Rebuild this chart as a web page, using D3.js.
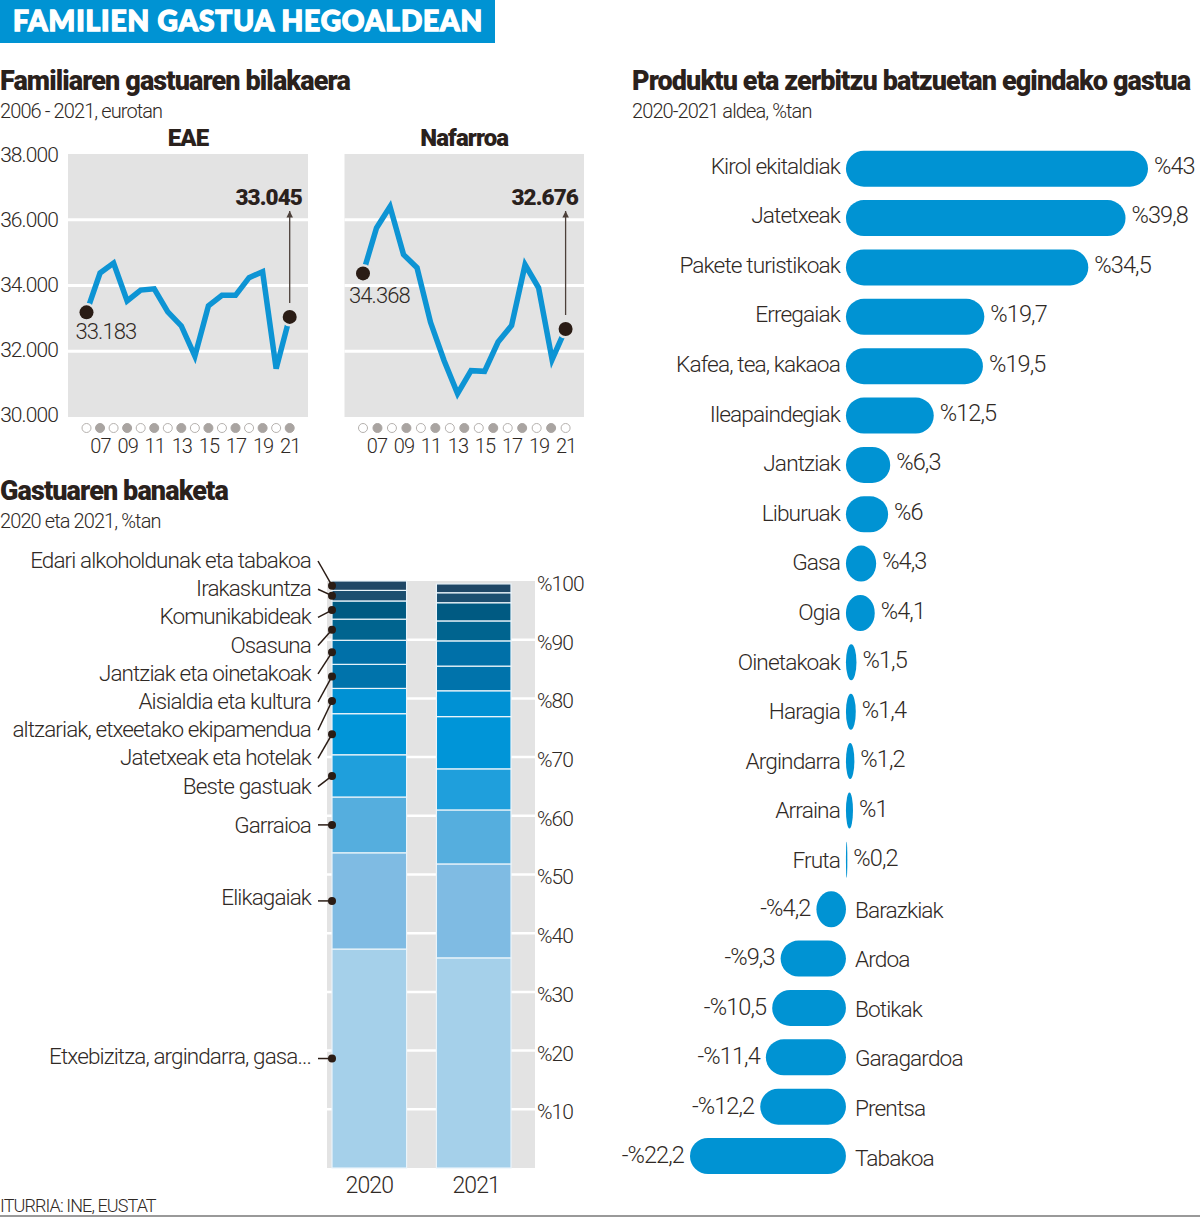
<!DOCTYPE html>
<html lang="en">
<head>
  <meta charset="UTF-8" />
  <title>Familien gastua hegoaldean</title>
  <script src="https://d3js.org/d3.v7.min.js"></script>
  <style>
    html, body { margin: 0; padding: 0; background: #fff; }
    svg { display: block; }
    text { font-family: Roboto, sans-serif; font-weight: 300; fill: #2f2925; letter-spacing: -0.9px; }
    .head { font-weight: 900; fill: #2a211c; letter-spacing: -0.9px; }
  </style>
</head>
<body>
<script>
  // line charts
  const years = d3.range(2006, 2022);
  const yearTicks = [2007, 2009, 2011, 2013, 2015, 2017, 2019, 2021];
  const euroTicks = [30000, 32000, 34000, 36000, 38000];
  const eaeValues = [33183, 34380, 34680, 33530, 33860, 33900, 33200, 32770, 31850, 33380, 33700, 33700, 34240, 34420, 31470, 33045];
  const nafValues = [34368, 35750, 36400, 34940, 34540, 32880, 31720, 30710, 31410, 31390, 32280, 32780, 34630, 33930, 31750, 32676];

  // stacked bars, bottom to top
  const shareNames = ["Etxebizitza, argindarra, gasa...", "Elikagaiak", "Garraioa", "Beste gastuak", "Jatetxeak eta hotelak",
    "altzariak, etxeetako ekipamendua", "Aisialdia eta kultura", "Jantziak eta oinetakoak", "Osasuna", "Komunikabideak",
    "Irakaskuntza", "Edari alkoholdunak eta tabakoa"];
  const share2020 = [37.3, 16.4, 9.5, 7.2, 7.0, 4.3, 4.1, 4.1, 3.6, 3.1, 1.8, 1.6];
  const share2021 = [35.8, 16.0, 9.2, 7.0, 8.9, 4.4, 4.2, 4.3, 3.4, 3.1, 1.7, 1.5];
  const shareColors = ["#a5d0ea", "#7fbbe3", "#55aede", "#1f9fdc", "#0095d8", "#0091d4", "#0073ab", "#0070a8", "#00648f", "#005a82", "#1c4f70", "#1f4766"];
  const percentTicks = d3.range(10, 101, 10);

  // change per product
  const products = ["Kirol ekitaldiak", "Jatetxeak", "Pakete turistikoak", "Erregaiak", "Kafea, tea, kakaoa", "Ileapaindegiak",
    "Jantziak", "Liburuak", "Gasa", "Ogia", "Oinetakoak", "Haragia", "Argindarra", "Arraina", "Fruta",
    "Barazkiak", "Ardoa", "Botikak", "Garagardoa", "Prentsa", "Tabakoa"];
  const changes = [43, 39.8, 34.5, 19.7, 19.5, 12.5, 6.3, 6, 4.3, 4.1, 1.5, 1.4, 1.2, 1, 0.2, -4.2, -9.3, -10.5, -11.4, -12.2, -22.2];

  const locale = d3.formatLocale({ decimal: ",", thousands: ".", grouping: [3], currency: ["", ""] });
  const fmtEuro = locale.format(",d");
  const fmtPct = v => (v < 0 ? "-%" : "%") + String(Math.abs(v)).replace(".", ",");

  const svg = d3.select("body").append("svg").attr("width", 1200).attr("height", 1217);

  function label(x, y, str, size, anchor, cls) {
    return svg.append("text").attr("x", x).attr("y", y).attr("font-size", size)
      .attr("text-anchor", anchor || "start").attr("class", cls || null).text(str);
  }

  // title band
  svg.append("rect").attr("width", 495).attr("height", 43).attr("fill", "#0093d3");
  label(13, 31, "FAMILIEN GASTUA HEGOALDEAN", 28, "start")
    .style("font-family", "Lato").style("font-weight", 900).style("fill", "#fff")
    .style("stroke", "#fff").style("stroke-width", 1.4).style("letter-spacing", "0.9px");

  label(0, 90, "Familiaren gastuaren bilakaera", 27, "start", "head");
  label(0, 118, "2006 - 2021, eurotan", 20);
  label(0, 500, "Gastuaren banaketa", 27, "start", "head");
  label(0, 528, "2020 eta 2021, %tan", 20);
  label(632, 90, "Produktu eta zerbitzu batzuetan egindako gastua", 27, "start", "head");
  label(632, 118, "2020-2021 aldea, %tan", 20);

  svg.append("defs").append("marker").attr("id", "arrow").attr("viewBox", "0 0 6 6")
    .attr("refX", 6).attr("refY", 3).attr("markerWidth", 5).attr("markerHeight", 5).attr("orient", "auto")
    .append("path").attr("d", "M0,0 L6,3 L0,6 Z").attr("fill", "#4c403a");

  // ---- line panels
  const euroY = d3.scaleLinear().domain([30000, 38000]).range([417, 154]);
  const euroLabelY = d3.scaleLinear().domain([30000, 38000]).range([414.5, 155]);

  function linePanel(name, values, left, right, x0, x1, dotCount, firstDx, firstDy) {
    const x = d3.scaleLinear().domain([2006, 2021]).range([x0, x1]);
    const g = svg.append("g");
    g.append("rect").attr("x", left).attr("y", euroY(38000)).attr("width", right - left)
      .attr("height", euroY(30000) - euroY(38000)).attr("fill", "#e3e3e3");
    g.selectAll("line.grid").data([32000, 34000, 36000]).join("line").attr("class", "grid")
      .attr("x1", left).attr("x2", right).attr("y1", euroY).attr("y2", euroY)
      .attr("stroke", "#fff").attr("stroke-width", 3);

    const pts = years.map((yr, i) => ({ yr: yr, v: values[i] }));
    g.append("path").datum(pts).attr("fill", "none").attr("stroke", "#0d94d4").attr("stroke-width", 5.5)
      .attr("stroke-linejoin", "miter")
      .attr("d", d3.line().x(d => x(d.yr)).y(d => euroY(d.v)));

    const first = pts[0], last = pts[pts.length - 1];
    g.append("line").attr("x1", x(last.yr)).attr("x2", x(last.yr))
      .attr("y1", euroY(last.v) - 14).attr("y2", 211)
      .attr("stroke", "#4c403a").attr("stroke-width", 1.3).attr("marker-end", "url(#arrow)");
    g.selectAll("circle.end").data([first, last]).join("circle").attr("class", "end")
      .attr("cx", d => x(d.yr)).attr("cy", d => euroY(d.v)).attr("r", 7)
      .attr("fill", "#2a1c15").attr("stroke", "#e3e3e3").attr("stroke-width", 5)
      .attr("paint-order", "stroke");

    // marker row under the panel
    const dots = d3.scalePoint().domain(d3.range(dotCount)).range([x0, x1]);
    g.selectAll("circle.year").data(d3.range(dotCount)).join("circle").attr("class", "year")
      .attr("cx", d => dots(d)).attr("cy", 428).attr("r", 4.5)
      .attr("fill", d => d % 2 ? "#a9a4a1" : "#fff")
      .attr("stroke", d => d % 2 ? "#a9a4a1" : "#b5b1ae").attr("stroke-width", 1);

    const axis = d3.axisBottom(x).tickValues(yearTicks).tickSize(0)
      .tickFormat(d => String(d).slice(2));
    const ag = g.append("g").attr("transform", "translate(0,434)").call(axis);
    ag.select(".domain").remove();
    ag.selectAll("text").attr("font-size", 20).attr("y", 0).attr("dy", "0.95em");

    label((left + right) / 2, 146, name, 24, "middle", "head");
    label(right - 6, 205, fmtEuro(last.v), 22.5, "end", "head");
    label(x0 + firstDx, euroY(first.v) + firstDy, fmtEuro(first.v), 22);
  }

  linePanel("EAE", eaeValues, 68, 308, 86.5, 289.7, 16, -11, 27);
  linePanel("Nafarroa", nafValues, 344.5, 584, 363, 565.6, 15, -14, 30);

  const euroAxis = svg.append("g").attr("transform", "translate(58,0)")
    .call(d3.axisLeft(euroLabelY).tickValues(euroTicks).tickSize(0).tickPadding(0).tickFormat(fmtEuro));
  euroAxis.select(".domain").remove();
  euroAxis.selectAll("text").attr("font-size", 21);

  // ---- stacked bars
  const pctY = d3.scaleLinear().domain([0, 100]).range([1168, 581]);
  svg.append("rect").attr("x", 327).attr("y", pctY(100)).attr("width", 208)
    .attr("height", pctY(0) - pctY(100)).attr("fill", "#e3e3e3");
  svg.selectAll("line.pct").data(percentTicks.slice(0, -1)).join("line").attr("class", "pct")
    .attr("x1", 327).attr("x2", 535).attr("y1", pctY).attr("y2", pctY)
    .attr("stroke", "#fff").attr("stroke-width", 2.5);

  const barX = d3.scaleBand().domain(["2020", "2021"]).range([332, 511]).paddingInner(0.2857);

  function stackColumn(key, shares) {
    const tops = d3.cumsum(shares);
    svg.selectAll("rect.s" + key).data(shares).join("rect").attr("class", "s" + key)
      .attr("x", barX(key)).attr("width", barX.bandwidth())
      .attr("y", (d, i) => pctY(tops[i]))
      .attr("height", d => pctY(0) - pctY(d))
      .attr("fill", (d, i) => shareColors[i])
      .attr("stroke", "#eaf4fa").attr("stroke-width", 1.2);
    return tops;
  }
  const tops2020 = stackColumn("2020", share2020);
  stackColumn("2021", share2021);

  const barAxis = svg.append("g").attr("transform", "translate(0,1171)")
    .call(d3.axisBottom(barX).tickSize(0).tickPadding(0));
  barAxis.select(".domain").remove();
  barAxis.selectAll("text").attr("font-size", 23).attr("y", 0).attr("dy", "0.95em")
    .attr("dx", d => d === "2021" ? 2.5 : 0);

  const pctAxis = svg.append("g").attr("transform", "translate(537,0)")
    .call(d3.axisRight(pctY).tickValues(percentTicks).tickSize(0).tickPadding(0).tickFormat(d => "%" + d));
  pctAxis.select(".domain").remove();
  pctAxis.selectAll("text").attr("font-size", 21).attr("dy", "0.45em");

  // labels read top-down: the upper nine are stacked, the last three sit near their dot
  const lowerLabelShift = [1, -3, -2];
  shareNames.forEach((name, i) => {
    const dotY = pctY(tops2020[i] - share2020[i] / 2);
    const order = shareNames.length - 1 - i;
    const labelY = order < 9 ? 561 + order * 28.2 : dotY + lowerLabelShift[order - 9];
    const startY = order < 9 ? labelY : dotY;
    label(311, labelY + 7, name, 22.5, "end");
    svg.append("line").attr("x1", 318).attr("x2", 332).attr("y1", startY).attr("y2", dotY)
      .attr("stroke", "#2a1c15").attr("stroke-width", 1.5);
    svg.append("circle").attr("cx", 332).attr("cy", dotY).attr("r", 4).attr("fill", "#2a1c15");
  });

  // ---- diverging bars
  const changeX = d3.scaleLinear().domain([-22.2, 43]).range([690, 1148]);
  const rowY = d3.scalePoint().domain(products).range([168.7, 1156]);
  const rowH = 36;
  // the printed labels run on a slightly wider step than the bars
  const nameDrift = d3.scaleLinear().domain([0, 20]).range([5, 9.5]);
  const valueDrift = d3.scaleLinear().domain([0, 20]).range([5, 7]);

  const rows = svg.selectAll("g.row").data(products.map((p, i) => ({ name: p, v: changes[i], i: i }))).join("g").attr("class", "row");
  rows.append("rect")
    .attr("x", d => Math.min(changeX(0), changeX(d.v)))
    .attr("y", d => rowY(d.name) - rowH / 2)
    .attr("width", d => Math.abs(changeX(d.v) - changeX(0)))
    .attr("height", rowH)
    .attr("rx", d => Math.min(18, Math.abs(changeX(d.v) - changeX(0)) / 2))
    .attr("ry", rowH / 2)
    .attr("fill", "#0093d3");
  rows.append("text").attr("font-size", 22.7)
    .attr("x", d => d.v < 0 ? changeX(0) + 9 : changeX(0) - 6)
    .attr("y", d => rowY(d.name) + nameDrift(d.i))
    .attr("text-anchor", d => d.v < 0 ? "start" : "end")
    .text(d => d.name);
  rows.append("text").attr("font-size", 23.5)
    .attr("x", d => d.v < 0 ? changeX(d.v) - 6 : changeX(d.v) + 6)
    .attr("y", d => rowY(d.name) + valueDrift(d.i))
    .attr("text-anchor", d => d.v < 0 ? "end" : "start")
    .text(d => fmtPct(d.v));

  // source and rule
  label(0, 1212, "ITURRIA: INE, EUSTAT", 18);
  svg.append("line").attr("x1", 0).attr("x2", 1200).attr("y1", 1216).attr("y2", 1216)
    .attr("stroke", "#777").attr("stroke-width", 1.5);
</script>
</body>
</html>
